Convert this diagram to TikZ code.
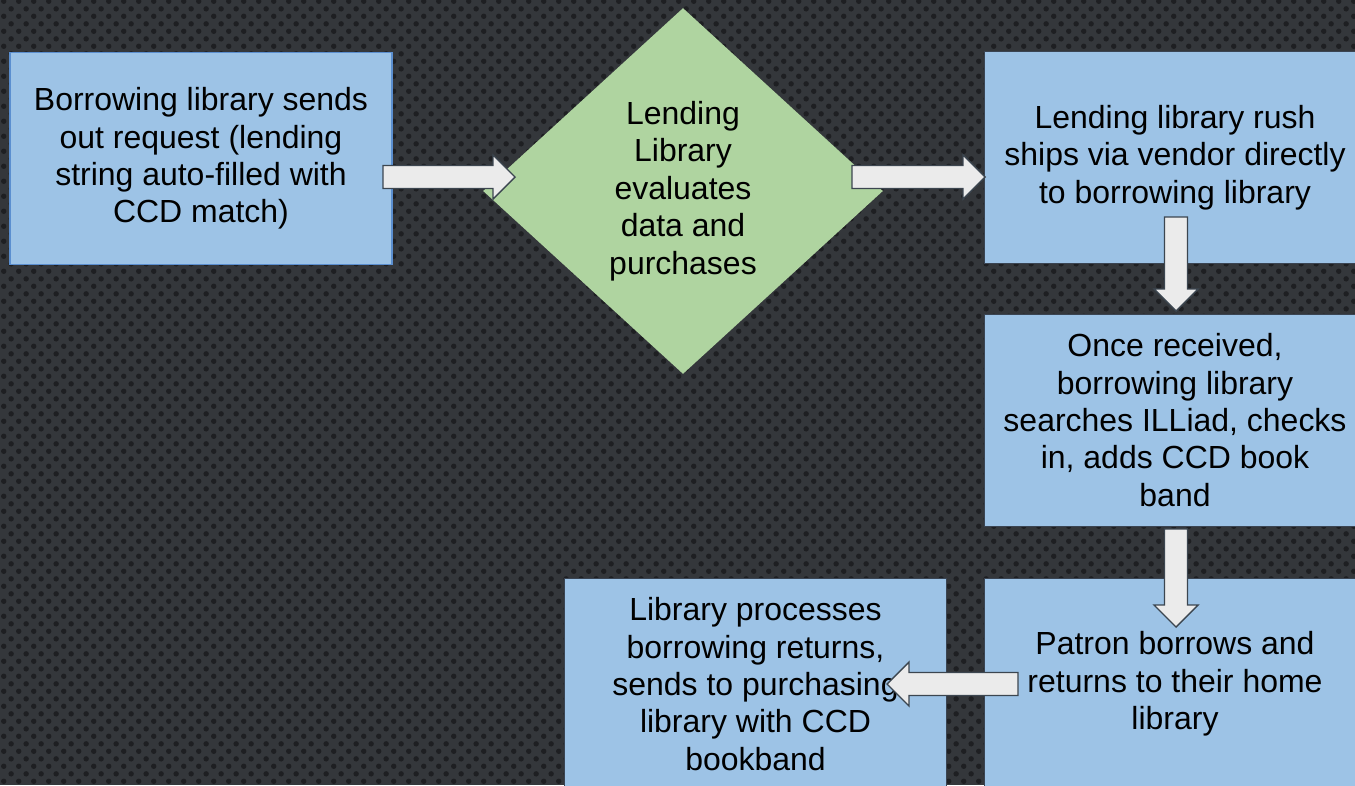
\documentclass[tikz,border=0pt]{standalone}
\usepackage{fontspec}
\setmainfont{Liberation Sans}
\usepackage{tikz}
\usetikzlibrary{shapes.geometric}
\usetikzlibrary{patterns.meta}
\usetikzlibrary{calc}

\definecolor{bgcol}{HTML}{34373B}
\definecolor{dotcol}{HTML}{1E1F22}
\definecolor{boxfill}{HTML}{9DC3E6}
\definecolor{boxline}{HTML}{5B8FD0}
\definecolor{edgeline}{HTML}{3A4452}
\definecolor{decfill}{HTML}{AFD4A0}
\definecolor{arrfill}{HTML}{EBEBEB}
\definecolor{arrline}{HTML}{3C4650}

\tikzdeclarepattern{
	name=bgdots,
	bounding box={(0pt,0pt) and (8.5pt,8.5pt)},
	tile size={(8.5pt,8.5pt)},
	code={
		\fill (2.125pt,2.125pt) circle (1.55pt);
		\fill (6.375pt,6.375pt) circle (1.55pt);
	}
}

\begin{document}
\begin{tikzpicture}[x=0.02cm,y=-0.02cm,
	every node/.style={font=\fontsize{18.2}{21.3}\selectfont,align=center,text=black},
	procbox/.style={draw=edgeline,line width=0.5pt,fill=boxfill,minimum width=7.64cm,minimum height=4.24cm,inner sep=0pt},
	decision/.style={shape=diamond,fill=decfill,minimum width=8cm,minimum height=7.32cm,inner sep=0pt},
	blockarrow/.style={draw=arrline,fill=arrfill,line width=0.8pt,line join=miter,to path={
		($(\tikztostart)!0.23cm!90:(\tikztotarget)$)
		-- ($(\tikztotarget)!0.4965cm!-27.6:(\tikztostart)$)
		-- ($(\tikztotarget)!0.6223cm!-45:(\tikztostart)$)
		-- (\tikztotarget)
		-- ($(\tikztotarget)!0.6223cm!45:(\tikztostart)$)
		-- ($(\tikztotarget)!0.4965cm!27.6:(\tikztostart)$)
		-- ($(\tikztostart)!0.23cm!-90:(\tikztotarget)$) -- cycle}}]
	\useasboundingbox (0,0) rectangle (1355,785);
	\clip (0,0) rectangle (1355,785);
	\fill[bgcol] (0,0) rectangle (1355,785);
	\fill[pattern=bgdots,pattern color=dotcol] (0,0) rectangle (1355,785);

	\draw (201,158.5) node (borrow) [procbox,draw=boxline,line width=0.8pt] {Borrowing library sends\\out request (lending\\string auto-filled with\\CCD match)};
	\draw (683,191) node (lend) [decision] {Lending\\Library\\evaluates\\data and\\purchases};
	\draw (1175,157.5) node (rush) [procbox] {Lending library rush\\ships via vendor directly\\to borrowing library};
	\draw (1175,420) node (recv) [procbox] {Once received,\\borrowing library\\searches ILLiad, checks\\in, adds CCD book\\band};
	\draw (1175,684) node (patron) [procbox] {Patron borrows and\\returns to their home\\library};
	\draw (755.5,684) node (proc) [procbox] {Library processes\\borrowing returns,\\sends to purchasing\\library with CCD\\bookband};

	\coordinate (s1) at (383,177);
	\coordinate (e1) at (515,177);
	\coordinate (s2) at (852,177);
	\coordinate (e2) at (985,177);
	\coordinate (s3) at (1176,217);
	\coordinate (e3) at (1176,311);
	\coordinate (s4) at (1176,529);
	\coordinate (e4) at (1176,627);
	\coordinate (s5) at (1018,684);
	\coordinate (e5) at (887,684);

	\draw[blockarrow] (s1) to (e1);
	\draw[blockarrow] (s2) to (e2);
	\draw[blockarrow] (s3) to (e3);
	\draw[blockarrow] (s4) to (e4);
	\draw[blockarrow] (s5) to (e5);
\end{tikzpicture}
\end{document}
